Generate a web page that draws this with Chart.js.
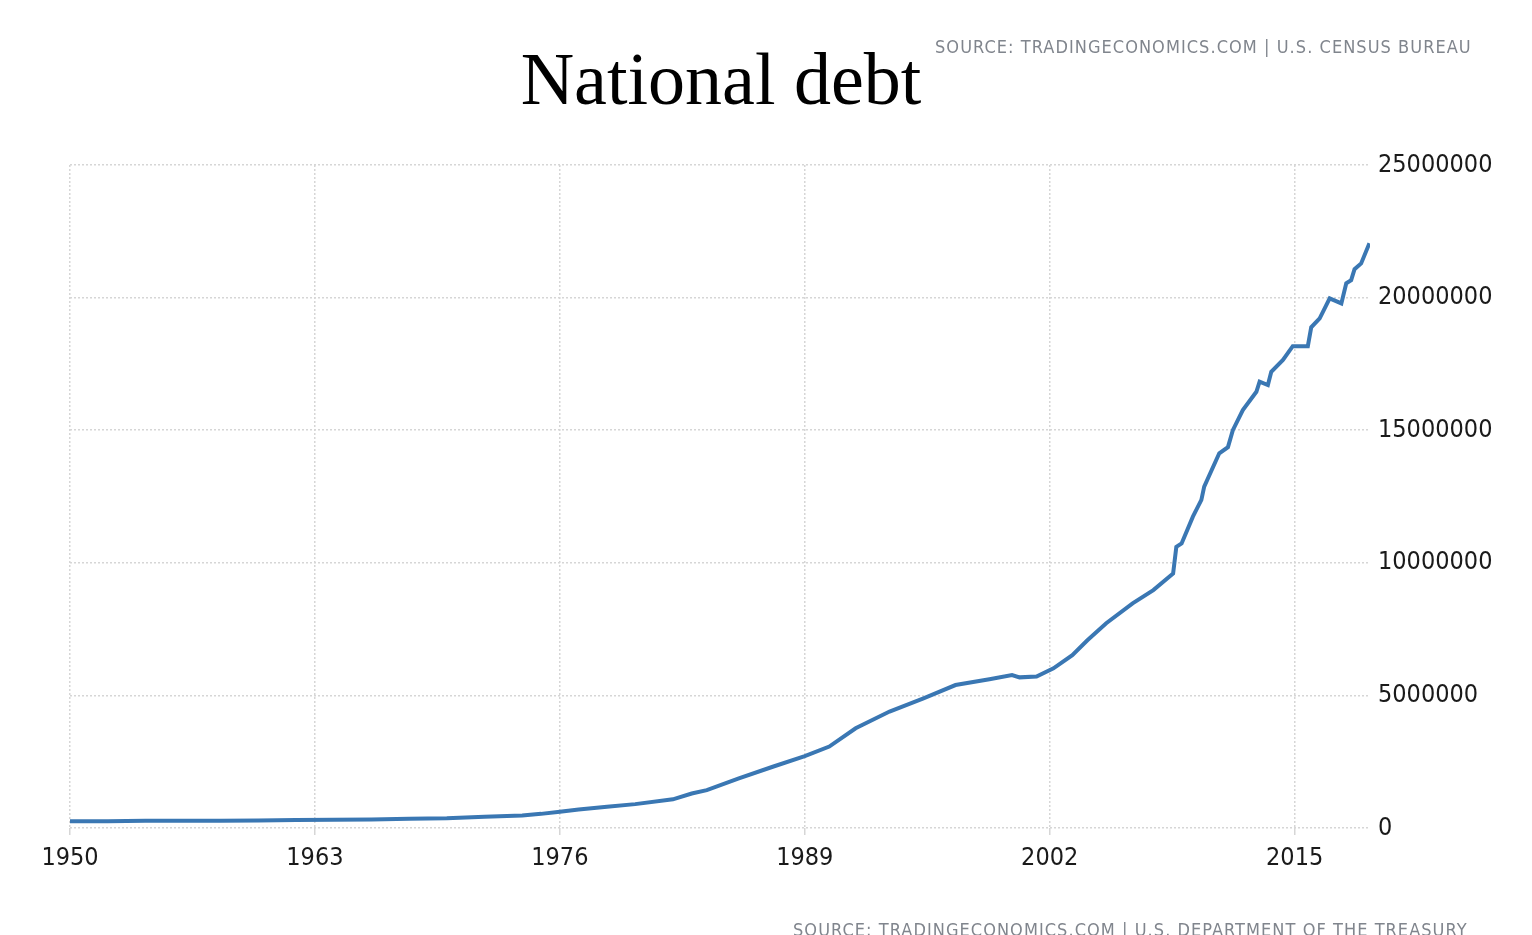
<!DOCTYPE html>
<html>
<head>
<meta charset="utf-8">
<script src="https://cdn.jsdelivr.net/npm/chart.js@4.4.1/dist/chart.umd.min.js"></script>
<style>
  html, body { margin: 0; padding: 0; background: #ffffff; overflow: hidden; }
  #wrap { position: relative; width: 1532px; height: 935px; }
  #c { position: absolute; left: 0; top: 0; }
  .title { position: absolute; left: 0; width: 1442px; top: 42px; text-align: center;
           font-family: 'Liberation Serif', 'Times New Roman', serif; font-size: 74px; color: #000; line-height: 1; }
  .src { position: absolute; font-family: 'DejaVu Sans Condensed', 'DejaVu Sans', sans-serif; font-size: 18px;
         color: #80858d; white-space: nowrap; letter-spacing: 1.05px; }
</style>
</head>
<body>
<div id="wrap">
  <canvas id="c" width="1532" height="935"></canvas>
  <div class="title">National debt</div>
  <div class="src" style="left:935px; top:36px;">SOURCE: TRADINGECONOMICS.COM | U.S. CENSUS BUREAU</div>
  <div class="src" style="left:793px; top:919px;">SOURCE: TRADINGECONOMICS.COM | U.S. DEPARTMENT OF THE TREASURY</div>
</div>
<script>
// ---- data ----
const years = [1950, 1952, 1954, 1956, 1958, 1960, 1962, 1964, 1966, 1968, 1970, 1972, 1974, 1975,
  1976, 1977, 1978.5, 1980, 1982, 1983, 1983.8, 1985.5, 1987.3, 1989, 1990.3, 1991.7, 1993.5, 1995.3,
  1997, 1998.8, 2000, 2000.4, 2001.3, 2002.2, 2003.2, 2004, 2005, 2006.4, 2007.5, 2008.55, 2008.72,
  2009, 2009.6, 2010.05, 2010.2, 2011, 2011.46, 2011.72, 2012.25, 2012.97, 2013.14, 2013.58, 2013.76,
  2014.38, 2014.9, 2015.7, 2015.88, 2016.33, 2016.86, 2017.48, 2017.74, 2018.0, 2018.18, 2018.53, 2018.97];
const debt = [257000, 259000, 271000, 273000, 276000, 286000, 298000, 312000, 320000, 348000, 370000, 427000, 475000, 533000,
  615000, 700000, 800000, 900000, 1080000, 1300000, 1430000, 1870000, 2310000, 2710000, 3070000, 3760000, 4390000, 4890000,
  5390000, 5610000, 5770000, 5680000, 5710000, 6020000, 6520000, 7080000, 7720000, 8470000, 8970000, 9600000, 10600000,
  10730000, 11740000, 12370000, 12870000, 14130000, 14360000, 15000000, 15760000, 16450000, 16830000, 16700000, 17200000,
  17650000, 18170000, 18170000, 18880000, 19220000, 19970000, 19780000, 20540000, 20660000, 21070000, 21290000, 22050000];
const xTicks = [1950, 1963, 1976, 1989, 2002, 2015];
const yTicks = [0, 5000000, 10000000, 15000000, 20000000, 25000000];

const tickFont = { family: "'Liberation Sans Narrow', 'Arial Narrow', 'DejaVu Sans Condensed', sans-serif", size: 25 };

new Chart(document.getElementById('c'), {
  type: 'line',
  data: {
    datasets: [{
      data: years.map((y, i) => ({ x: y, y: debt[i] })),
      borderColor: '#3a77b3',
      borderWidth: 4,
      pointRadius: 0,
      tension: 0,
      fill: false
    }]
  },
  options: {
    responsive: false,
    animation: false,
    events: [],
    layout: { padding: { left: 70, right: 0, top: 165, bottom: 47 } },
    plugins: { legend: { display: false }, tooltip: { enabled: false }, title: { display: false } },
    scales: {
      x: {
        type: 'linear',
        min: 1950, max: 2019,
        afterBuildTicks: s => { s.ticks = xTicks.map(v => ({ value: v })); },
        afterFit: s => { s.height = 60; },
        grid: { color: '#d6d6d6', lineWidth: 1.5, tickLength: 7, drawOnChartArea: true },
        border: { display: false, dash: [2, 2] },
        ticks: { font: tickFont, color: '#1a1a1a', padding: 8, maxRotation: 0, autoSkip: false,
                 callback: v => String(v) }
      },
      y: {
        position: 'right',
        min: 0, max: 25000000,
        afterBuildTicks: s => { s.ticks = yTicks.map(v => ({ value: v })); },
        afterFit: s => { s.width = 162; },
        grid: { color: '#d6d6d6', lineWidth: 1.5, drawTicks: false },
        border: { display: false, dash: [2, 2] },
        ticks: { font: tickFont, color: '#1a1a1a', padding: 8, callback: v => String(v) }
      }
    }
  }
});
</script>
</body>
</html>
